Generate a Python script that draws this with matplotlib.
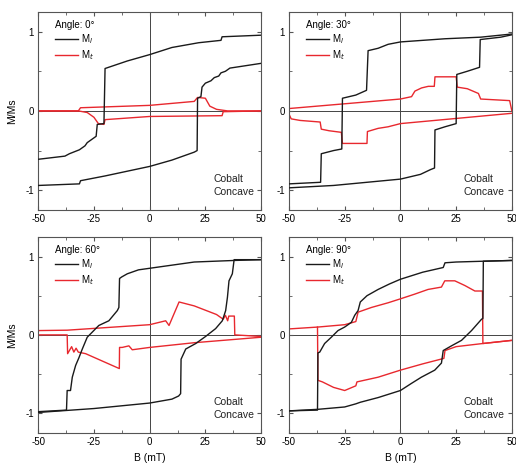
import matplotlib
matplotlib.use("Agg")
import matplotlib.pyplot as plt
from matplotlib.ticker import MultipleLocator

plt.rcParams['font.family'] = ['Liberation Sans', 'DejaVu Sans']
plt.rcParams['axes.unicode_minus'] = False

# (B in mT, M/Ms) points, one list per branch
angles = [0, 30, 60, 90]

ml_desc_0 = [(50, 0.955), (32.5, 0.935), (32, 0.89), (22, 0.86), (10, 0.80), (0, 0.71),
             (-10, 0.63), (-20, 0.535), (-20.5, -0.16), (-23.5, -0.17), (-24, -0.32),
             (-26.5, -0.37), (-28, -0.40), (-29, -0.44), (-31.5, -0.49), (-36, -0.54),
             (-38, -0.57), (-50, -0.61)]
ml_asc_0 = [(-50, -0.94), (-31.5, -0.92), (-31, -0.88), (-20, -0.82), (-10, -0.76), (0, -0.70),
            (10, -0.62), (20, -0.52), (21.3, -0.50), (21.5, 0.16), (23, 0.18), (23.5, 0.30),
            (25, 0.35), (27.5, 0.38), (29, 0.42), (31, 0.44), (32, 0.48), (34, 0.50),
            (36, 0.54), (50, 0.60)]
mt_asc_0 = [(-50, 0.0), (-32, 0.0), (-31, 0.04), (0, 0.07), (20, 0.12), (21.5, 0.17),
            (25, 0.16), (27, 0.06), (30, 0.02), (35, 0.0), (50, 0.0)]
mt_desc_0 = [(50, 0.0), (33, -0.01), (32.5, -0.06), (0, -0.07), (-20, -0.11), (-20.5, -0.17),
             (-23, -0.16), (-25, -0.08), (-28, -0.02), (-32, 0.0), (-50, 0.0)]

ml_desc_30 = [(50, 0.97), (36, 0.93), (20, 0.91), (0, 0.87), (-5.5, 0.84), (-10, 0.79),
              (-14.5, 0.76), (-15.2, 0.26), (-20, 0.20), (-26, 0.16), (-26.3, -0.48),
              (-30, -0.50), (-35.5, -0.54), (-35.8, -0.90), (-50, -0.92)]
ml_asc_30 = [(-50, -0.97), (-30, -0.94), (0, -0.86), (9, -0.80), (13.5, -0.74), (15.3, -0.72),
             (15.5, -0.24), (20, -0.20), (25, -0.16), (25.3, 0.46), (30, 0.50), (35.5, 0.55),
             (35.8, 0.90), (45, 0.93), (50, 0.96)]
mt_asc_30 = [(-50, 0.03), (-25, 0.09), (0, 0.15), (5, 0.18), (6.5, 0.25), (9.5, 0.29),
             (12.5, 0.31), (15.2, 0.31), (15.5, 0.43), (25, 0.43), (25.5, 0.30), (30, 0.28),
             (35, 0.22), (36, 0.15), (49, 0.13), (50, 0.0)]
mt_desc_30 = [(50, -0.03), (0, -0.16), (-5.5, -0.20), (-10, -0.22), (-14.8, -0.26),
              (-15, -0.41), (-26, -0.41), (-26.5, -0.27), (-32, -0.25), (-35.5, -0.23),
              (-36, -0.14), (-45, -0.12), (-49, -0.10), (-50, -0.04)]

ml_desc_60 = [(50, 0.96), (38, 0.95), (20, 0.93), (0, 0.85), (-5, 0.83), (-10, 0.78),
              (-12.5, 0.74), (-13.5, 0.72), (-13.8, 0.35), (-14.5, 0.31), (-18.3, 0.18),
              (-22.8, 0.12), (-28, -0.03), (-30.2, -0.18), (-31.7, -0.29), (-33.2, -0.39),
              (-34.7, -0.54), (-35.5, -0.71), (-37, -0.71), (-37.3, -0.96), (-50, -0.98)]
ml_asc_60 = [(-50, -0.99), (-25, -0.94), (0, -0.87), (10, -0.82), (13, -0.78), (13.9, -0.75),
             (14.1, -0.31), (16.2, -0.18), (20.7, -0.11), (25.1, -0.02), (29.6, 0.08),
             (32.6, 0.18), (34.1, 0.31), (34.9, 0.48), (35.6, 0.69), (37.1, 0.78),
             (37.9, 0.96), (50, 0.96)]
mt_asc_60 = [(-50, 0.055), (-37, 0.06), (0, 0.13), (7.2, 0.18), (8.7, 0.12), (13.2, 0.42),
             (20, 0.37), (30, 0.26), (32, 0.22), (33, 0.20), (34, 0.25), (35, 0.18),
             (35.5, 0.24), (38, 0.24), (38.2, 0.0), (50, -0.02)]
mt_desc_60 = [(50, -0.03), (20, -0.10), (0, -0.16), (-7.8, -0.19), (-9.3, -0.14),
              (-12.3, -0.16), (-13.5, -0.16), (-13.6, -0.43), (-28.7, -0.24), (-32, -0.22),
              (-33, -0.17), (-34, -0.22), (-35, -0.15), (-36.8, -0.24), (-37, 0.0), (-50, 0.0)]

ml_desc_90 = [(50, 0.95), (37, 0.94), (25, 0.93), (20, 0.92), (19.2, 0.86), (10, 0.80),
              (0, 0.71), (-4.9, 0.65), (-10, 0.58), (-15, 0.50), (-18, 0.42), (-19, 0.31),
              (-20.5, 0.25), (-22, 0.16), (-25, 0.10), (-28, 0.055), (-31, -0.03),
              (-34, -0.11), (-36.2, -0.22), (-37, -0.23), (-37.2, -0.96), (-50, -0.97)]
ml_asc_90 = [(-50, -0.97), (-37, -0.95), (-25, -0.92), (-20, -0.88), (-18, -0.86),
             (-10, -0.80), (0, -0.71), (4.9, -0.62), (9.4, -0.54), (15.4, -0.45),
             (18.4, -0.36), (19.2, -0.20), (22.9, -0.14), (27.4, -0.07), (31.9, 0.055),
             (36.4, 0.20), (37, 0.21), (37.2, 0.94), (50, 0.95)]
mt_asc_90 = [(-50, 0.076), (-37, 0.10), (-25, 0.13), (-20, 0.17), (-19, 0.29), (-13, 0.35),
             (-5.5, 0.41), (0, 0.46), (6.4, 0.52), (12.4, 0.58), (18.4, 0.61), (19.9, 0.69),
             (24.4, 0.69), (28.9, 0.63), (33.4, 0.56), (36.8, 0.56), (37, -0.11), (50, -0.07)]
mt_desc_90 = [(50, -0.07), (37, -0.11), (25, -0.15), (20, -0.20), (19.5, -0.30),
              (10, -0.37), (0, -0.45), (-10, -0.54), (-19.5, -0.60), (-20, -0.65),
              (-25, -0.71), (-30, -0.67), (-35, -0.60), (-37, -0.58), (-37.2, 0.10)]

curves = {
    0: (ml_desc_0, ml_asc_0, mt_asc_0, mt_desc_0),
    30: (ml_desc_30, ml_asc_30, mt_asc_30, mt_desc_30),
    60: (ml_desc_60, ml_asc_60, mt_asc_60, mt_desc_60),
    90: (ml_desc_90, ml_asc_90, mt_asc_90, mt_desc_90),
}

black = '#1a1a1a'
red = '#e8282e'

fig = plt.figure(figsize=(5.16, 4.72), dpi=100)
boxes = [(0.074, 0.555, 0.432, 0.420), (0.560, 0.555, 0.432, 0.420),
         (0.074, 0.083, 0.432, 0.415), (0.560, 0.083, 0.432, 0.415)]

for i, ang in enumerate(angles):
    ax = fig.add_axes(boxes[i])
    ml_d, ml_a, mt_a, mt_d = curves[ang]
    ax.axhline(0, color='#444', lw=0.7, zorder=1)
    ax.axvline(0, color='#444', lw=0.7, zorder=1)
    for pts in (mt_a, mt_d):
        ax.plot([p[0] for p in pts], [p[1] for p in pts], color=red, lw=1.0, zorder=2)
    first = True
    for pts in (ml_d, ml_a):
        ax.plot([p[0] for p in pts], [p[1] for p in pts], color=black, lw=1.0, zorder=3)
    # legend proxies
    ax.plot([], [], color=black, lw=1.0, label='M$_l$')
    ax.plot([], [], color=red, lw=1.0, label='M$_t$')
    handles, labels = ax.get_legend_handles_labels()
    ax.legend(handles[-2:], labels[-2:], title='Angle: %d\u00b0' % ang, loc='upper left',
              bbox_to_anchor=(0.04, 1.0), frameon=False, fontsize=7, title_fontsize=7,
              handlelength=2.4, handletextpad=0.3, labelspacing=0.25, borderpad=0.3,
              alignment='left')
    ax.text(0.785, 0.125, 'Cobalt\nConcave', transform=ax.transAxes, fontsize=7.5,
            ha='left', va='center', linespacing=1.4, color='#222')

    ax.set_xlim(-50, 50)
    ax.set_ylim(-1.25, 1.25)
    ax.xaxis.set_major_locator(MultipleLocator(25))
    ax.xaxis.set_minor_locator(MultipleLocator(12.5))
    ax.yaxis.set_major_locator(MultipleLocator(1))
    ax.yaxis.set_minor_locator(MultipleLocator(0.5))
    ax.tick_params(which='both', direction='in', top=True, right=True, labelsize=7,
                   color='#555', pad=3)
    ax.tick_params(which='major', length=3)
    ax.tick_params(which='minor', length=2)
    for s in ax.spines.values():
        s.set_color('#555')
        s.set_linewidth(0.8)
    if i % 2 == 0:
        ax.set_ylabel('M/Ms', fontsize=7.5, labelpad=6)
    if i >= 2:
        ax.set_xlabel('B (mT)', fontsize=7.5, labelpad=4)

fig.savefig('out.png', dpi=100)
